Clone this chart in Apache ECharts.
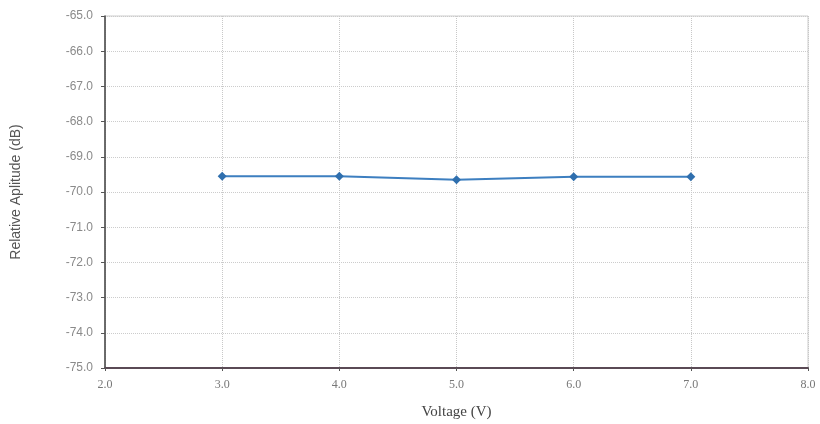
<!DOCTYPE html>
<html><head><meta charset="utf-8">
<script src="https://cdn.jsdelivr.net/npm/echarts@6/dist/echarts.min.js"></script>
<style>html,body{margin:0;padding:0;background:#fff}#c{width:820px;height:424px}</style>
</head><body><div id="c"></div>
<script>
const voltage = [3.0, 4.0, 5.0, 6.0, 7.0];
const amplitude = [-69.55, -69.55, -69.65, -69.57, -69.57];
const chart = echarts.init(document.getElementById('c'));
chart.setOption({
  animation: false,
  grid: {left: 105, right: 12, top: 16, bottom: 56, outerBoundsMode: 'none', containLabel: false, show: true, borderColor: '#cccccc', borderWidth: 1},
  xAxis: {
    type: 'value', min: 2, max: 8, interval: 1,
    name: 'Voltage (V)', nameLocation: 'middle', nameGap: 37,
    nameTextStyle: {fontFamily: 'Liberation Serif', fontSize: 15, color: '#444'},
    axisLine: {onZero: false, lineStyle: {color: '#5a4a55', width: 2}},
    axisTick: {show: true, inside: false, length: 3, lineStyle: {color: '#555'}},
    axisLabel: {formatter: v => v.toFixed(1), fontFamily: 'Liberation Serif', fontSize: 12, color: '#777', margin: 11},
    splitLine: {show: true, lineStyle: {color: '#c8c8c8', type: 'dotted'}}
  },
  yAxis: {
    type: 'value', min: -75, max: -65, interval: 1,
    name: 'Relative Aplitude (dB)', nameLocation: 'middle', nameGap: 82,
    nameTextStyle: {fontFamily: 'Liberation Sans', fontSize: 14, color: '#555'},
    axisLine: {show: true, onZero: false, lineStyle: {color: '#444', width: 1.5}},
    axisTick: {show: true, inside: false, length: 4, lineStyle: {color: '#555'}},
    axisLabel: {formatter: v => v.toFixed(1), fontFamily: 'Liberation Sans', fontSize: 12, color: '#8a8a8a', margin: 12},
    splitLine: {show: true, lineStyle: {color: '#cccccc', type: 'dotted'}}
  },
  series: [{
    type: 'line', data: voltage.map((v, i) => [v, amplitude[i]]),
    symbol: 'diamond', symbolSize: 9,
    lineStyle: {color: '#3d7fc0', width: 2},
    itemStyle: {color: '#2f6fae'}
  }]
});
</script></body></html>
